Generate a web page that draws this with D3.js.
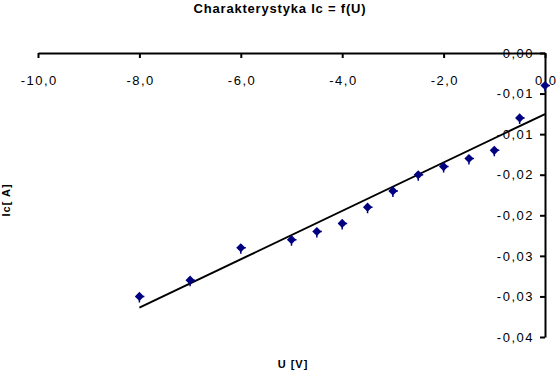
<!DOCTYPE html>
<html>
<head>
<meta charset="utf-8">
<script src="https://cdn.jsdelivr.net/npm/d3@7"></script>
<style>
  body { margin: 0; background: #fff; }
  svg text { font-family: "Liberation Sans", Arial, sans-serif; }
</style>
</head>
<body>
<svg id="chart" width="558" height="372"></svg>
<script>
// napiecie U [V] i prad Ic [A]
var uValues = [-8, -7, -6, -5, -4.5, -4, -3.5, -3, -2.5, -2, -1.5, -1, -0.5, 0];
var icValues = [-0.030, -0.028, -0.024, -0.023, -0.022, -0.021, -0.019, -0.017, -0.015, -0.014, -0.013, -0.012, -0.008, -0.004];
var xTicks = [-10, -8, -6, -4, -2, 0];
var yTicks = [0, -0.005, -0.01, -0.015, -0.02, -0.025, -0.03, -0.035];

var svg = d3.select("#chart"),
    width = +svg.attr("width"),
    height = +svg.attr("height");

var x = d3.scaleLinear().domain([-10, 0]).range([38, 545]);
var y = d3.scaleLinear().domain([-0.035, 0]).range([337, 53]);

// Excel-like rounding (half away from zero), comma decimal
function fmt(v, d) {
    var p = Math.pow(10, d);
    var r = Math.round(Math.abs(v) * p + 1e-9) / p;
    return (v < 0 && r > 0 ? "-" : "") + r.toFixed(d).replace(".", ",");
}

// title
svg.append("text")
    .attr("x", 280).attr("y", 13)
    .attr("text-anchor", "middle")
    .style("font-size", "13px").style("font-weight", "bold")
    .style("letter-spacing", "0.8px")
    .text("Charakterystyka Ic = f(U)");

// x axis (at top, y = 0)
var xAxis = svg.append("g")
    .attr("transform", "translate(0," + y(0) + ")")
    .call(d3.axisBottom(x).tickValues(xTicks).tickSize(5).tickSizeOuter(0).tickPadding(18)
        .tickFormat(function(d) { return fmt(d, 1); }));

// y axis (at x = 0)
var yAxis = svg.append("g")
    .attr("transform", "translate(" + x(0) + ",0)")
    .call(d3.axisLeft(y).tickValues(yTicks).tickSize(5).tickSizeOuter(0).tickPadding(6)
        .tickFormat(function(d) { return fmt(d, 2); }));

[xAxis, yAxis].forEach(function(a) {
    a.selectAll("path, line").attr("stroke", "#000").attr("stroke-width", 2);
    a.selectAll("text").style("font-size", "13px").attr("fill", "#000")
        .style("letter-spacing", "1.5px")
        .style("font-family", "'Liberation Sans', Arial, sans-serif");
});
xAxis.selectAll("text").attr("dx", "0.75px");

// linear trend line (least squares)
var mx = d3.mean(uValues),
    my = d3.mean(icValues),
    sxy = d3.sum(uValues, function(u, i) { return (u - mx) * (icValues[i] - my); }),
    sxx = d3.sum(uValues, function(u) { return (u - mx) * (u - mx); }),
    slope = sxy / sxx,
    icpt = my - slope * mx;

svg.append("path")
    .datum(d3.extent(uValues))
    .attr("fill", "none")
    .attr("stroke", "#000")
    .attr("stroke-width", 2)
    .attr("d", d3.line()
        .x(function(u) { return x(u); })
        .y(function(u) { return y(slope * u + icpt); }));

// points
var pts = svg.append("g").selectAll("g")
    .data(uValues.map(function(u, i) { return [u, icValues[i]]; }))
    .enter().append("g")
    .attr("transform", function(d) { return "translate(" + x(d[0]) + "," + y(d[1]) + ")"; });

pts.append("path")
    .attr("d", "M0,0V6M0,0H5")
    .attr("stroke", "#000080")
    .attr("stroke-width", 1.5);

pts.append("path")
    .attr("d", d3.symbol().type(d3.symbolSquare).size(42))
    .attr("transform", "rotate(45)")
    .attr("fill", "#000080");

// axis titles
svg.append("text")
    .attr("x", 293).attr("y", 368)
    .attr("text-anchor", "middle")
    .style("font-size", "11px").style("font-weight", "bold")
    .style("letter-spacing", "1px")
    .text("U [V]");

svg.append("text")
    .attr("transform", "translate(10,200) rotate(-90)")
    .attr("text-anchor", "middle")
    .style("font-size", "11px").style("font-weight", "bold")
    .style("letter-spacing", "1px")
    .text("Ic[ A]");
</script>
</body>
</html>
